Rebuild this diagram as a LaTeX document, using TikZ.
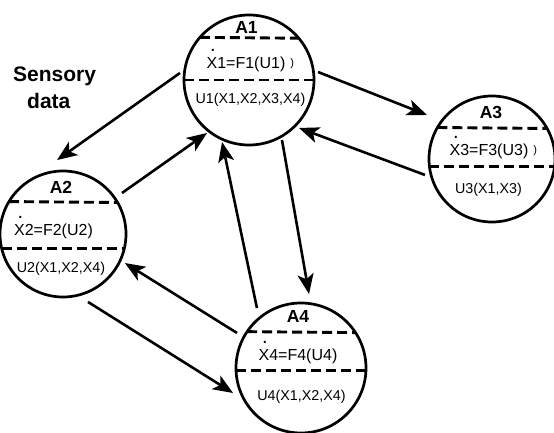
\documentclass[tikz,border=0pt]{standalone}
\usepackage{fontspec}
\setmainfont{Liberation Sans}
\usetikzlibrary{arrows.meta,calc}
% X with a time-derivative dot set well above it
\newcommand\xdot{\leavevmode\rlap{\hspace{0.22em}\raisebox{1.1em}{\fontsize{20}{20}\selectfont .}}X}
% small closing parenthesis trailing an equation
\newcommand\tailparen{\rlap{\hspace{5pt}\raisebox{2.5pt}{\fontsize{11}{11}\selectfont )}}}
\begin{document}
\begin{tikzpicture}[x=1pt,y=1pt,
  agent/.style={circle,draw,line width=2.7pt,minimum size=#1,inner sep=0pt,outer sep=0pt},
  sepline/.style={line width=2.9pt,dash pattern=on 10pt off 5pt},
  link/.style={line width=2.6pt,-{Stealth[length=20pt,width=16pt,inset=5pt]}},
  ttl/.style={font=\bfseries\fontsize{17.5}{20}\selectfont,inner sep=0pt,text height=12.5pt,text depth=0pt},
  eqn/.style={font=\fontsize{16}{19}\selectfont,inner sep=0pt,text height=11.5pt,text depth=0pt},
  arg/.style={font=\fontsize{14.3}{17}\selectfont,inner sep=0pt,text height=10.3pt,text depth=0pt},
  note/.style={font=\bfseries\fontsize{21}{26.5}\selectfont,inner sep=0pt,align=left}]
\useasboundingbox (0,0) rectangle (554,432);
\clip (0,0) rectangle (554,432);

% agents
\node[agent=130pt] (A1) at (249,352) {};
\node[agent=126pt] (A2) at (63,198) {};
\node[agent=126pt] (A3) at (492,273) {};
\node[agent=130pt] (A4) at (301,64) {};

% dashed separators (chords of each circle)
\draw[sepline] (A1.139.75) -- (A1.40.25);
\draw[sepline] (A1.west) -- (A1.east);
\draw[sepline] (A2.149.5) -- (A2.30.5);
\draw[sepline] (A2.193.8) -- (A2.-13.8);
\draw[sepline] (A3.150.5) -- (A3.29.5);
\draw[sepline] (A3.187.3) -- (A3.-7.3);
\draw[sepline] (A4.146.4) -- (A4.33.6);
\draw[sepline] (A4.182.6) -- (A4.-2.6);

% texts inside the agents
\node[ttl] (A1t) at ($(A1)+(-2.5,53)$) {A1};
\node[eqn] (A1x) at ($(A1)+(-3,17)$) {\xdot1=F1(U1)\tailparen};
\node[arg] (A1u) at ($(A1)+(1.5,-18)$) {U1(X1,X2,X3,X4)};

\node[ttl] (A2t) at ($(A2)+(-2,47)$) {A2};
\node[eqn] (A2x) at ($(A2)+(-9.5,4)$) {\xdot2=F2(U2)};
\node[arg] (A2u) at ($(A2)+(-2,-33)$) {U2(X1,X2,X4)};

\node[ttl] (A3t) at ($(A3)+(-1,47)$) {A3};
\node[eqn] (A3x) at ($(A3)+(-3,9)$) {\xdot3=F3(U3)\tailparen};
\node[arg] (A3u) at ($(A3)+(-3.5,-29)$) {U3(X1,X3)};

\node[ttl] (A4t) at ($(A4)+(-3,52)$) {A4};
\node[eqn] (A4x) at ($(A4)+(-3,13)$) {\xdot4=F4(U4)};
\node[arg] (A4u) at ($(A4)+(0.5,-27)$) {U4(X1,X2,X4)};

% caption
\node[note,anchor=north west] (sd) at (13,365.3) {Sensory\\\hspace*{14pt}data};

% information flow between agents
\draw[link] ($(A1)+(174.2:69.4pt)$) -- ($(A2)+(94.6:74.2pt)$);
\draw[link] ($(A2)+(34.8:71.8pt)$) -- ($(A1)+(231.6:67.6pt)$);
\draw[link] ($(A4)+(126.3:74.4pt)$) -- ($(A1)+(246.5:67.6pt)$);
\draw[link] ($(A1)+(298.8:68.5pt)$) -- ($(A4)+(83.8:74.4pt)$);
\draw[link] ($(A1)+(6.6:69.5pt)$) -- ($(A3)+(145.9:78.5pt)$);
\draw[link] ($(A3)+(193.4:68.9pt)$) -- ($(A1)+(316.2:69.3pt)$);
\draw[link] ($(A4)+(151.3:73pt)$) -- ($(A2)+(334.9:68.4pt)$);
\draw[link] ($(A2)+(290.2:72.4pt)$) -- ($(A4)+(200.2:72.4pt)$);
\end{tikzpicture}
\end{document}
